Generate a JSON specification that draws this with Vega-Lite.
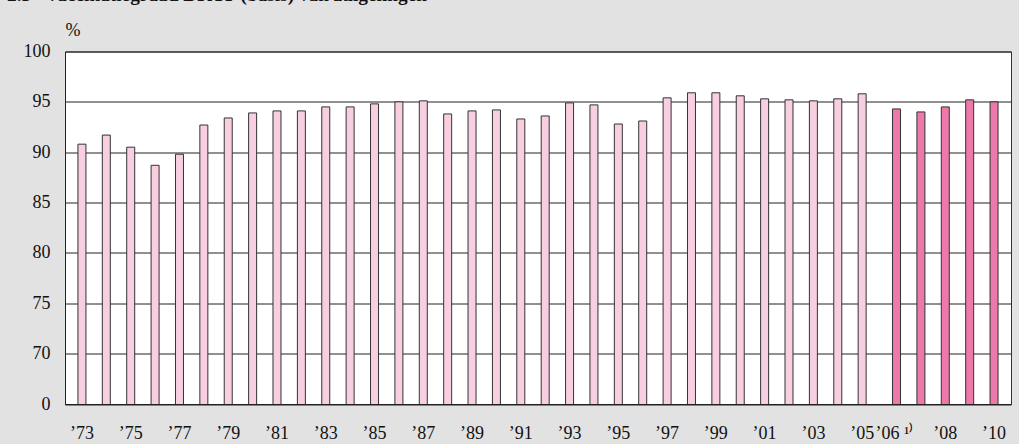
{
  "$schema": "https://vega.github.io/schema/vega-lite/v6.json",
  "width": 946,
  "height": 352.5,
  "autosize": {"type": "none"},
  "padding": {"left": 65, "top": 51.5, "right": 8, "bottom": 40},
  "background": "#e2e2e2",
  "title": {
    "text": "2.3\u2002 Vaccinatiegraad DKTP (basis) van zuigelingen",
    "anchor": "start",
    "frame": "group",
    "font": "Liberation Serif",
    "fontSize": 19.3,
    "fontWeight": "bold",
    "color": "#111111",
    "baseline": "alphabetic",
    "offset": 0,
    "dx": -58,
    "dy": -1
  },
  "config": {
    "view": {"fill": "white", "stroke": "#333333", "strokeWidth": 1},
    "axis": {
      "labelFont": "Liberation Serif",
      "labelFontSize": 18,
      "labelColor": "#111111",
      "titleFont": "Liberation Serif",
      "titleFontSize": 18,
      "titleFontWeight": "normal",
      "titleColor": "#111111",
      "ticks": false,
      "domainColor": "#222222",
      "domainWidth": 1
    }
  },
  "data": {
    "values": [
      {"year": 1973, "value": 90.8, "period": "1973-2005"},
      {"year": 1974, "value": 91.7, "period": "1973-2005"},
      {"year": 1975, "value": 90.5, "period": "1973-2005"},
      {"year": 1976, "value": 88.7, "period": "1973-2005"},
      {"year": 1977, "value": 89.8, "period": "1973-2005"},
      {"year": 1978, "value": 92.7, "period": "1973-2005"},
      {"year": 1979, "value": 93.4, "period": "1973-2005"},
      {"year": 1980, "value": 93.9, "period": "1973-2005"},
      {"year": 1981, "value": 94.1, "period": "1973-2005"},
      {"year": 1982, "value": 94.1, "period": "1973-2005"},
      {"year": 1983, "value": 94.5, "period": "1973-2005"},
      {"year": 1984, "value": 94.5, "period": "1973-2005"},
      {"year": 1985, "value": 94.8, "period": "1973-2005"},
      {"year": 1986, "value": 95.0, "period": "1973-2005"},
      {"year": 1987, "value": 95.1, "period": "1973-2005"},
      {"year": 1988, "value": 93.8, "period": "1973-2005"},
      {"year": 1989, "value": 94.1, "period": "1973-2005"},
      {"year": 1990, "value": 94.2, "period": "1973-2005"},
      {"year": 1991, "value": 93.3, "period": "1973-2005"},
      {"year": 1992, "value": 93.6, "period": "1973-2005"},
      {"year": 1993, "value": 94.9, "period": "1973-2005"},
      {"year": 1994, "value": 94.7, "period": "1973-2005"},
      {"year": 1995, "value": 92.8, "period": "1973-2005"},
      {"year": 1996, "value": 93.1, "period": "1973-2005"},
      {"year": 1997, "value": 95.4, "period": "1973-2005"},
      {"year": 1998, "value": 95.9, "period": "1973-2005"},
      {"year": 1999, "value": 95.9, "period": "1973-2005"},
      {"year": 2000, "value": 95.6, "period": "1973-2005"},
      {"year": 2001, "value": 95.3, "period": "1973-2005"},
      {"year": 2002, "value": 95.2, "period": "1973-2005"},
      {"year": 2003, "value": 95.1, "period": "1973-2005"},
      {"year": 2004, "value": 95.3, "period": "1973-2005"},
      {"year": 2005, "value": 95.8, "period": "1973-2005"},
      {"year": 2006, "value": 94.3, "period": "2006-2010"},
      {"year": 2007, "value": 94.0, "period": "2006-2010"},
      {"year": 2008, "value": 94.5, "period": "2006-2010"},
      {"year": 2009, "value": 95.2, "period": "2006-2010"},
      {"year": 2010, "value": 95.0, "period": "2006-2010"}
    ]
  },
  "encoding": {
    "x": {
      "field": "year",
      "type": "ordinal",
      "sort": "ascending",
      "scale": {"paddingInner": 0, "paddingOuter": 0.4},
      "axis": {
        "title": null,
        "labelAngle": 0,
        "labelPadding": 20,
        "labelOverlap": false,
        "labelExpr": "((datum.value % 2 == 1 && datum.value <= 2005) || (datum.value >= 2006 && datum.value % 2 == 0)) ? '\u2019' + substring(toString(datum.value), 2) + (datum.value == 2006 ? ' \u00b9\u207e' : '') : ''",
        "labelOffset": {
          "condition": [
            {"test": "datum.value <= 2005", "value": -5},
            {"test": "datum.value == 2006", "value": 3}
          ],
          "value": 5
        }
      }
    },
    "y": {
      "field": "value",
      "type": "quantitative",
      "scale": {"domain": [65, 100], "zero": false, "nice": false},
      "axis": {
        "values": [65, 70, 75, 80, 85, 90, 95, 100],
        "labelExpr": "datum.value == 65 ? '0' : datum.label",
        "labelPadding": 15,
        "grid": true,
        "gridColor": "#222222",
        "gridWidth": 1,
        "gridOpacity": 1,
        "title": "%",
        "titleAngle": 0,
        "titleAlign": "left",
        "titleBaseline": "alphabetic",
        "titleX": 0,
        "titleY": -16
      }
    },
    "color": {
      "field": "period",
      "type": "nominal",
      "scale": {"domain": ["1973-2005", "2006-2010"], "range": ["#f8cee1", "#ec79a9"]},
      "legend": null
    }
  },
  "layer": [
    {
      "transform": [{"filter": "datum.year <= 2005"}],
      "mark": {"type": "bar", "width": 8, "xOffset": -5, "x2Offset": -5, "clip": true, "stroke": "#333333", "strokeWidth": 1}
    },
    {
      "transform": [{"filter": "datum.year >= 2006"}],
      "mark": {"type": "bar", "width": 8, "xOffset": 5, "x2Offset": 5, "clip": true, "stroke": "#333333", "strokeWidth": 1}
    }
  ]
}
